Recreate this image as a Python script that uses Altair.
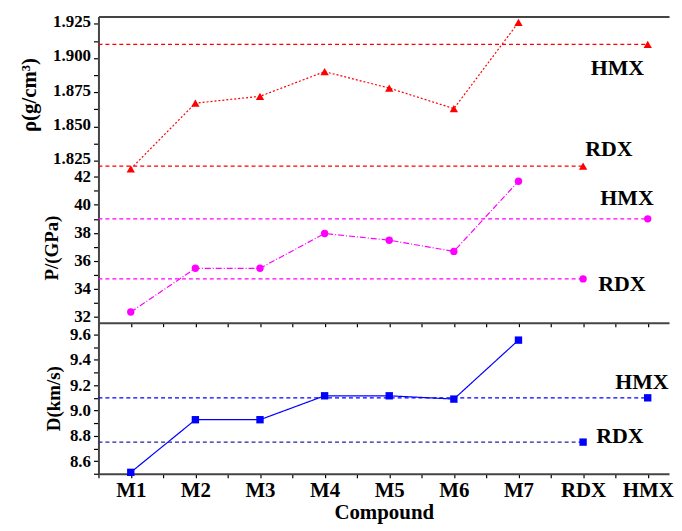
import altair as alt
import pandas as pd

compounds = ["M1", "M2", "M3", "M4", "M5", "M6", "M7", "RDX", "HMX"]
positions = [1, 2, 3, 4, 5, 6, 7, 8, 9]
density = [1.819, 1.867, 1.872, 1.890, 1.878, 1.863, 1.926, 1.821, 1.910]
pressure = [32.33, 35.46, 35.46, 37.95, 37.47, 36.67, 41.69, 34.70, 39.00]
velocity = [8.511, 8.927, 8.927, 9.116, 9.116, 9.090, 9.556, 8.75, 9.10]

df = pd.DataFrame({"pos": positions, "name": compounds,
                   "rho": density, "P": pressure, "D": velocity})
series_df = df[df["pos"] <= 7]
ref_df = df[df["pos"] >= 8].copy()
ref_df["x0"] = 0.5

FONT = "Liberation Serif"
XDOM = [0.5, 9.33]
W = 574
name_expr = "['', 'M1','M2','M3','M4','M5','M6','M7','RDX','HMX'][datum.value]"
x_ticks = [0.5 + 0.5 * i for i in range(18)]


def x_enc(field, labels=False, title=None):
    if labels:
        ax = alt.Axis(
            values=x_ticks, tickCount=100, labels=True, title=title, grid=False,
            domainColor="#444444", domainWidth=2, tickColor="#000000",
            tickSize=4, tickWidth=1.2,
            labelExpr="datum.value % 1 == 0 ? " + name_expr + " : ''",
            labelOverlap=False, labelFlush=False,
            labelFont=FONT, labelFontSize=21, labelFontWeight="bold", labelColor="#000000",
            labelPadding=2, labelAngle=0,
            titleFont=FONT, titleFontSize=21, titleFontWeight="bold", titleColor="#000000",
            titlePadding=1,
        )
    else:
        ax = alt.Axis(
            values=x_ticks, tickCount=100, labels=False, title=None, grid=False,
            domainColor="#444444", domainWidth=2, tickColor="#000000",
            tickSize=4, tickWidth=1.2,
        )
    return alt.X(field, type="quantitative", scale=alt.Scale(domain=XDOM, nice=False, zero=False), axis=ax)


def y_axis(values, label_expr, title, title_size, title_pad, label_offset=0):
    return alt.Axis(
        values=values, tickCount=100, labelExpr=label_expr, title=title, grid=False,
        domainColor="#444444", domainWidth=2, tickColor="#000000",
        tickSize=5, tickWidth=1.2, labelOverlap=False, labelFlush=False,
        labelFont=FONT, labelFontSize=17, labelFontWeight="bold", labelColor="#000000",
        labelPadding=3, labelOffset=label_offset,
        titleFont=FONT, titleFontSize=title_size, titleFontWeight="bold", titleColor="#000000",
        titlePadding=title_pad,
    )


def panel(field, ydom, yaxis, color, shape, msize, line_dash, ref_dash, ref_colors, height,
          ann, xlabels=False, xtitle=None, top_axis=False):
    yscale = alt.Scale(domain=ydom, nice=False, zero=False)
    y = alt.Y(field, type="quantitative", scale=yscale, axis=yaxis)
    line = alt.Chart(series_df).mark_line(color=color, strokeWidth=1.2, strokeDash=line_dash).encode(
        x=x_enc("pos", xlabels, xtitle), y=y)
    layers = []
    for ref_name, rc in zip(["RDX", "HMX"], ref_colors):
        layers.append(alt.Chart(ref_df[ref_df["name"] == ref_name]).mark_rule(
            strokeWidth=1.3, strokeDash=ref_dash, color=rc).encode(
            x=alt.X("x0:Q"), x2="pos:Q",
            y=alt.Y(field, type="quantitative")))
    pts = alt.Chart(df).mark_point(shape=shape, filled=True, size=msize, color=color, opacity=1).encode(
        x=alt.X("pos:Q"), y=alt.Y(field, type="quantitative"))
    layers = [line] + layers + [pts]
    for (tx, ty, txt) in ann:
        layers.append(alt.Chart(df.head(1)).mark_text(
            font=FONT, fontSize=22, fontWeight="bold", color="#000000").encode(
            x=alt.datum(tx), y=alt.datum(ty), text=alt.value(txt)))
    if top_axis:
        layers.append(alt.Chart(df.head(1)).mark_point(opacity=0).encode(
            x=alt.X("pos:Q", axis=alt.Axis(orient="top", labels=False, ticks=False, title=None,
                                             domainColor="#444444", domainWidth=2, grid=False)),
            y=alt.Y(field, type="quantitative")))
    return alt.layer(*layers).properties(width=W, height=height)


top = panel(
    "rho", [1.8163, 1.9303],
    y_axis([1.825 + 0.0125 * i for i in range(9)],
           "abs(datum.value*40 - round(datum.value*40)) < 0.01 ? format(datum.value, '.3f') : ''",
           "ρ(g/cm³)", 21, 13, -2),
    "#ff0000", "triangle-up", 70, [2, 2], [4, 3], ["#ff0000", "#ff0000"], 157,
    [(8.53, 1.8925, "HMX"), (8.40, 1.8335, "RDX")], top_axis=True)

mid = panel(
    "P", [31.57, 42.31],
    y_axis(list(range(32, 43)), "datum.value % 2 == 0 ? datum.value : ''",
           "P/(GPa)", 19, 12, 0),
    "#ff00ff", "circle", 55, [6, 2, 1, 2], [4, 3], ["#ff00ff", "#ff00ff"], 151,
    [(8.68, 40.5, "HMX"), (8.60, 34.35, "RDX")])

bot = panel(
    "D", [8.50, 9.694],
    y_axis([8.5 + 0.1 * i for i in range(12)],
           "abs(datum.value*5 - round(datum.value*5)) < 0.01 ? format(datum.value, '.1f') : ''",
           "D(km/s)", 19, 6),
    "#0000ff", "square", 55, [1, 0], [4, 3], ["#2222aa", "#0000ff"], 152,
    [(8.91, 9.221, "HMX"), (8.57, 8.799, "RDX")], xlabels=True, xtitle="Compound")

chart = alt.vconcat(top, mid, bot, spacing=0, bounds="flush").resolve_scale(
    y="independent").configure_view(stroke=None).properties(
    padding={"left": 10, "top": 3, "right": 0, "bottom": 0})

chart.save("out.html", embed_options={"renderer": "svg", "actions": False})
